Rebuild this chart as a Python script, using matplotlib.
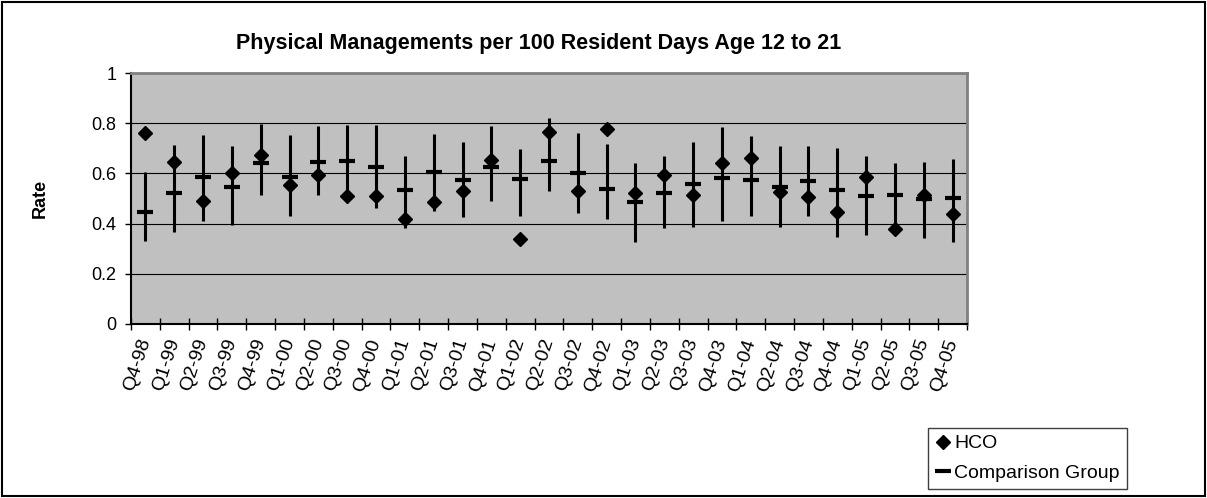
import matplotlib.pyplot as plt
from matplotlib.lines import Line2D
from matplotlib.patches import Rectangle

plt.rcParams['font.family'] = ['Liberation Sans', 'DejaVu Sans']

quarters = ['Q4-98',
            'Q1-99', 'Q2-99', 'Q3-99', 'Q4-99',
            'Q1-00', 'Q2-00', 'Q3-00', 'Q4-00',
            'Q1-01', 'Q2-01', 'Q3-01', 'Q4-01',
            'Q1-02', 'Q2-02', 'Q3-02', 'Q4-02',
            'Q1-03', 'Q2-03', 'Q3-03', 'Q4-03',
            'Q1-04', 'Q2-04', 'Q3-04', 'Q4-04',
            'Q1-05', 'Q2-05', 'Q3-05', 'Q4-05']

hco = [0.76, 0.645, 0.49, 0.60, 0.675, 0.555, 0.595, 0.51, 0.51, 0.42,
       0.487, 0.53, 0.655, 0.337, 0.765, 0.528, 0.775, 0.52, 0.592, 0.512,
       0.641, 0.662, 0.527, 0.505, 0.447, 0.585, 0.38, 0.512, 0.44]

comparacion = [0.445, 0.521, 0.584, 0.544, 0.640, 0.587, 0.647, 0.651, 0.627, 0.534,
               0.607, 0.574, 0.627, 0.578, 0.648, 0.602, 0.538, 0.485, 0.521, 0.558,
               0.582, 0.575, 0.547, 0.571, 0.534, 0.509, 0.514, 0.498, 0.501]

limite_sup = [0.604, 0.713, 0.753, 0.708, 0.795, 0.753, 0.790, 0.793, 0.793, 0.671,
              0.757, 0.724, 0.790, 0.697, 0.819, 0.760, 0.717, 0.641, 0.671, 0.726,
              0.786, 0.750, 0.708, 0.708, 0.703, 0.671, 0.641, 0.644, 0.657]

limite_inf = [0.332, 0.365, 0.409, 0.396, 0.514, 0.432, 0.515, 0.50, 0.461, 0.382,
              0.452, 0.428, 0.491, 0.429, 0.531, 0.442, 0.418, 0.328, 0.382, 0.388,
              0.412, 0.429, 0.388, 0.432, 0.348, 0.356, 0.39, 0.341, 0.328]

W, H = 1207, 498
fig = plt.figure(figsize=(W / 100, H / 100), dpi=100)
ax = fig.add_axes([131 / W, 1 - 324 / H, (967 - 131) / W, (324 - 73) / H])
ax.set_facecolor('#C0C0C0')

x = list(range(len(quarters)))
ax.vlines(x, limite_inf, limite_sup, color='black', linewidth=2.2, zorder=3)
ax.plot(x, comparacion, linestyle='none', marker='_', markersize=12,
        markeredgewidth=3, color='black', zorder=4)
ax.plot(x, hco, linestyle='none', marker='D', markersize=7,
        color='black', zorder=5)

ax.set_xlim(-0.5, len(quarters) - 0.5)
ax.set_ylim(0, 1)
ax.set_yticks([0, 0.2, 0.4, 0.6, 0.8, 1])
ax.set_yticklabels(['0', '0.2', '0.4', '0.6', '0.8', '1'])
ax.set_xticks(x)
ax.set_xticklabels(quarters, rotation=72, ha='right', va='center',
                   rotation_mode='anchor')
ax.set_xticks([i - 0.5 for i in range(len(quarters) + 1)], minor=True)
ax.tick_params(axis='x', which='major', length=0, pad=11, labelsize=14)
ax.tick_params(axis='x', which='minor', direction='inout', length=9, width=1)
ax.tick_params(axis='y', direction='out', length=4.5, width=1, pad=6, labelsize=13)

ax.yaxis.grid(True, color='black', linewidth=0.8)
ax.set_axisbelow(True)
for lado in ['left', 'bottom']:
    ax.spines[lado].set_color('black')
    ax.spines[lado].set_linewidth(1.5)
for lado in ['top', 'right']:
    ax.spines[lado].set_color('#808080')
    ax.spines[lado].set_linewidth(2)

fig.text(539 / W, 1 - 49 / H, 'Physical Managements per 100 Resident Days Age 12 to 21',
         ha='center', va='baseline', fontsize=15.5, fontweight='bold')
fig.text(40 / W, 1 - 198 / H, 'Rate', rotation=90, ha='center', va='center',
         fontsize=13, fontweight='bold')

handles = [Line2D([], [], linestyle='none', marker='D', markersize=7, color='black'),
           Line2D([], [], linestyle='none', marker='_', markersize=12,
                  markeredgewidth=3, color='black')]
leg = fig.legend(handles, ['HCO', 'Comparison Group'], loc='upper left',
                 bbox_to_anchor=(928 / W, 1 - 428 / H), fontsize=14,
                 frameon=True, fancybox=False, framealpha=1, edgecolor='#404040',
                 handlelength=0.8, handletextpad=0.2, borderpad=0.35,
                 labelspacing=0.6, borderaxespad=0)
leg.get_frame().set_linewidth(1)

fig.patches.append(Rectangle((2 / W, 2 / H), 1 - 4 / W, 1 - 4 / H,
                             transform=fig.transFigure, fill=False,
                             edgecolor='black', linewidth=1.5))

fig.savefig('out.png', dpi=100)
